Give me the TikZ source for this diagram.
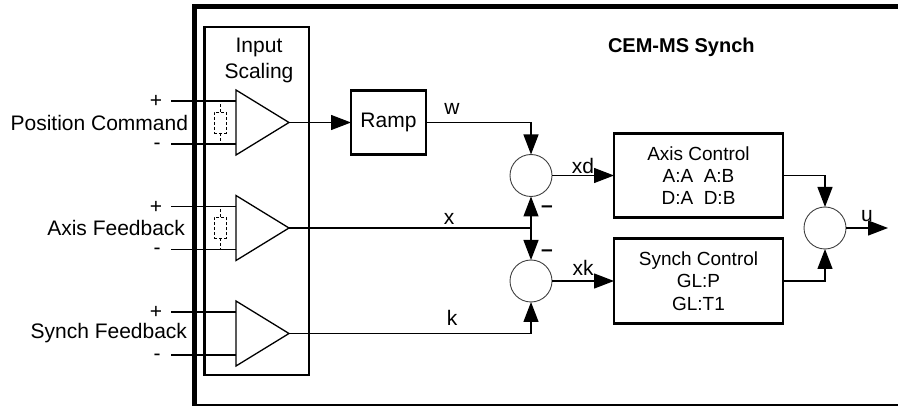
\documentclass[tikz,border=0pt]{standalone}
\usepackage{fontspec}
\setmainfont{Liberation Sans}
\usetikzlibrary{arrows.meta}
\begin{document}
\begin{tikzpicture}[x=1pt,y=-1pt,
  every node/.style={font=\fontsize{21}{24}\selectfont, inner sep=0pt, outer sep=0pt},
  wire/.style={line width=1.3pt},
  arr/.style={wire, -{Triangle[length=20pt,width=15pt]}},
  blk/.style={draw, line width=2.5pt, inner sep=0pt},
  sumc/.style={draw=black!75, line width=0.9pt, circle, minimum size=42pt},
  amp/.style={line width=1.3pt, line join=miter},
  ctl/.style={font=\fontsize{19}{22}\selectfont, align=center},
  resist/.style={line width=0.9pt, dash pattern=on 3pt off 2pt},
  sgn/.style={anchor=base}
]
\useasboundingbox (0,0) rectangle (898,406);

% outer frame
\draw[line width=1.5pt] (194.5,405) -- (898,405);
\draw[line width=4.5pt, line join=miter] (194.5,406) -- (194.5,6.3) -- (898,6.3);

% input scaling box
\node[blk, anchor=north west, minimum width=104.5pt, minimum height=348pt] (isbox) at (204.5,27) {};
\node[align=center, font=\fontsize{21}{26}\selectfont] (istxt) at (259,60) {Input\\Scaling};

% amplifiers
\foreach \n/\c/\t/\r in {1/122.5/Position Command/188, 2/228/Axis Feedback/185, 3/333.5/Synch Feedback/187}{
  \coordinate (a\n) at (289,\c);
  \coordinate (ip\n) at (171,\c-21.5);
  \coordinate (im\n) at (171,\c+21.5);
  \coordinate (ipe\n) at (236,\c-21.5);
  \coordinate (ime\n) at (236,\c+21.5);
  \draw[amp] (236,\c-32.5) -- (a\n) -- (236,\c+32.5) -- cycle;
  \draw[wire] (ip\n) -- (ipe\n);
  \draw[wire] (im\n) -- (ime\n);
  \node[sgn] (plus\n) at (156,\c-14.5) {+};
  \node[sgn] (minus\n) at (157,\c+27) {-};
  \node[anchor=east] (lab\n) at (\r,\c) {\t};
}

% dashed resistors
\foreach \n/\c in {1/122.5, 2/228}{
  \node[resist, draw, minimum width=12pt, minimum height=21pt] (r\n) at (220,\c) {};
  \draw[resist] (r\n.north) -- (ip\n -| r\n.north);
  \draw[resist] (r\n.south) -- (im\n -| r\n.south);
}

% ramp
\node[blk, line width=2.2pt, minimum width=75pt, minimum height=64pt] (ramp) at (388.5,122.5) {Ramp};
\draw[arr] (a1) -- (ramp.west);

% summing junctions
\node[sumc] (s1) at (531,175.5) {};
\node[sumc] (s2) at (531,281) {};
\node[sumc] (s3) at (825,228) {};

\draw[arr] (ramp.east) -| (s1.north);
\node (lw) at (452,109) {w};

\coordinate (xj) at (531,228);
\draw[wire] (a2) -- (xj);
\draw[arr] (xj) -- (s1.south);
\draw[arr] (xj) -- (s2.north);
\node (lx) at (449,219) {x};
\node[sgn, font=\bfseries\fontsize{21}{24}\selectfont] (m1) at (547,213) {–};
\node[sgn, font=\bfseries\fontsize{21}{24}\selectfont] (m2) at (547,257) {–};

\draw[arr] (a3) -| (s2.south);
\node (lk) at (452,318) {k};

% control boxes
\node[blk, ctl, minimum width=169pt, minimum height=84pt] (axis) at (698.5,175.5) {Axis Control\\A:A\ \ A:B\\D:A\ \ D:B};
\node[blk, ctl, minimum width=169pt, minimum height=85pt, font=\fontsize{19}{22.5}\selectfont] (sync) at (698.5,281) {Synch Control\\GL:P\\GL:T1};

\draw[arr] (s1.east) -- (axis.west);
\node (lxd) at (583,166) {xd};
\draw[arr] (s2.east) -- (sync.west);
\node (lxk) at (583,268) {xk};

\draw[arr] (axis.east) -| (s3.north);
\draw[arr] (sync.east) -| (s3.south);
\coordinate (uout) at (888,228);
\draw[arr] (s3.east) -- (uout);
\node (lu) at (867,216) {u};

% title
\node[anchor=west, font=\bfseries\fontsize{20}{23}\selectfont] (title) at (608,47) {CEM-MS Synch};
\end{tikzpicture}
\end{document}
